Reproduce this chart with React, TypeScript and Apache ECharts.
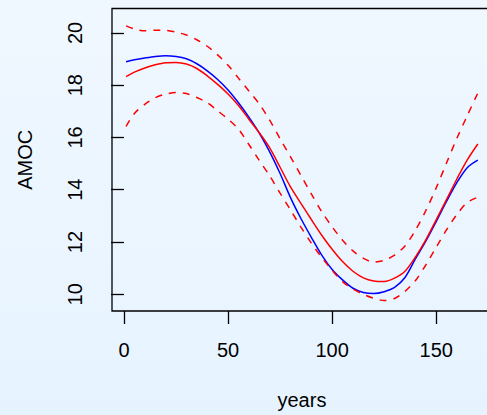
import React, { useEffect, useRef } from "react";
import * as echarts from "echarts";

const years = [1, 5, 10, 15, 20, 25, 30, 35, 40, 45, 50, 55, 60, 65, 70, 75, 80, 85, 90, 95, 100, 105, 110, 115, 120, 125, 130, 135, 140, 145, 150, 155, 160, 165, 170];
const trueAmoc = [18.9, 18.97, 19.04, 19.1, 19.13, 19.1, 19.01, 18.82, 18.55, 18.22, 17.82, 17.33, 16.78, 16.17, 15.45, 14.62, 13.7, 12.9, 12.18, 11.5, 10.95, 10.55, 10.23, 10.07, 10.03, 10.1, 10.26, 10.64, 11.35, 12.03, 12.78, 13.56, 14.28, 14.85, 15.13];
const estimate = [18.33, 18.5, 18.66, 18.78, 18.86, 18.87, 18.81, 18.64, 18.36, 18.03, 17.66, 17.22, 16.7, 16.18, 15.6, 14.86, 14.11, 13.48, 12.86, 12.26, 11.72, 11.25, 10.88, 10.63, 10.51, 10.49, 10.62, 10.88, 11.42, 12.08, 12.85, 13.63, 14.42, 15.15, 15.75];
const upper = [20.27, 20.15, 20.08, 20.1, 20.1, 20.03, 19.92, 19.74, 19.49, 19.16, 18.76, 18.27, 17.78, 17.28, 16.66, 15.95, 15.26, 14.55, 13.84, 13.16, 12.58, 12.07, 11.66, 11.38, 11.23, 11.3, 11.5, 11.85, 12.45, 13.2, 14.07, 15.03, 15.98, 16.85, 17.7];
const lower = [16.42, 16.92, 17.27, 17.52, 17.66, 17.72, 17.68, 17.53, 17.33, 17.02, 16.7, 16.32, 15.73, 15.12, 14.53, 13.87, 13.23, 12.57, 11.96, 11.41, 10.92, 10.48, 10.2, 10.0, 9.85, 9.76, 9.84, 10.11, 10.52, 11.12, 11.8, 12.47, 13.06, 13.52, 13.71];
const xTicks = [0, 50, 100, 150];
const yTicks = [10, 12, 14, 16, 18, 20];

const FONT = "Liberation Sans";

function pairs(vals: number[]) {
  return years.map((x, i) => [x, vals[i]]);
}

export default function App() {
  const ref = useRef<HTMLDivElement>(null);
  useEffect(() => {
    if (!ref.current) return;
    const chart = echarts.init(ref.current, undefined, { renderer: "svg" });
    const lineSeries = (name: string, vals: number[], color: string, dashed: boolean) => ({
      name,
      type: "line",
      data: pairs(vals),
      smooth: 0.3,
      showSymbol: false,
      symbol: "none",
      lineStyle: { color, width: 1.5, type: dashed ? [7, 7] : "solid" },
      silent: true,
    });
    chart.setOption({
      animation: false,
      backgroundColor: new echarts.graphic.LinearGradient(0, 0, 0, 1, [
        { offset: 0, color: "#F0F8FF" },
        { offset: 1, color: "#E6F3FF" },
      ]),
      grid: {
        left: 112,
        top: 8.5,
        right: 8.1,
        bottom: 103.3,
        show: true,
        borderColor: "#000",
        borderWidth: 1.3,
        backgroundColor: "transparent",
      },
      xAxis: {
        type: "value",
        min: -5.76,
        max: 176.76,
        axisLine: { show: false },
        splitLine: { show: false },
        axisTick: { show: true, customValues: xTicks, length: 13, lineStyle: { color: "#000", width: 1.3 } },
        axisLabel: { customValues: xTicks, fontSize: 20, color: "#000", fontFamily: FONT, margin: 29 },
        name: "years",
        nameLocation: "middle",
        nameGap: 79,
        nameTextStyle: { fontSize: 20, color: "#000", fontFamily: FONT },
      },
      yAxis: {
        type: "value",
        min: 9.36,
        max: 20.935,
        axisLine: { show: false },
        splitLine: { show: false },
        axisTick: { show: true, customValues: yTicks, length: 13, lineStyle: { color: "#000", width: 1.3 } },
        axisLabel: { customValues: yTicks, rotate: 90, fontSize: 20, color: "#000", fontFamily: FONT, margin: 27 },
        name: "AMOC",
        nameLocation: "middle",
        nameGap: 77,
        nameRotate: 90,
        nameTextStyle: { fontSize: 20, color: "#000", fontFamily: FONT },
      },
      series: [
        lineSeries("true", trueAmoc, "#0000FF", false),
        lineSeries("estimate", estimate, "#FF0000", false),
        lineSeries("upper", upper, "#FF0000", true),
        lineSeries("lower", lower, "#FF0000", true),
      ],
    });
    return () => chart.dispose();
  }, []);
  return (
    <div style={{ position: "fixed", left: 0, top: 0, width: 487, height: 415, overflow: "hidden" }}>
      <div ref={ref} style={{ width: 500, height: 415 }} />
    </div>
  );
}
